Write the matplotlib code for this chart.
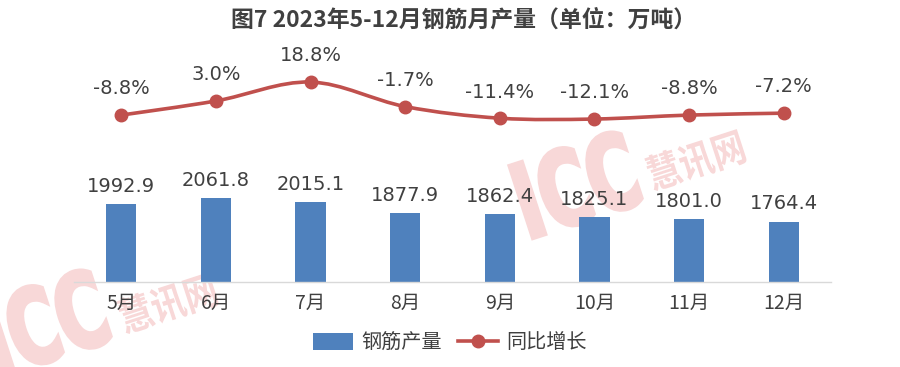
import matplotlib
matplotlib.use('Agg')
import matplotlib.pyplot as plt
import numpy as np
from matplotlib.path import Path
from matplotlib.patches import PathPatch, Patch
from matplotlib.lines import Line2D
from matplotlib.textpath import TextPath
from matplotlib.font_manager import FontProperties
from matplotlib.transforms import Affine2D, IdentityTransform

# data
months = ['5月', '6月', '7月', '8月', '9月', '10月', '11月', '12月']
output = [1992.9, 2061.8, 2015.1, 1877.9, 1862.4, 1825.1, 1801.0, 1764.4]
yoy = [-8.8, 3.0, 18.8, -1.7, -11.4, -12.1, -8.8, -7.2]

bar_color = '#4F81BD'
line_color = '#C0504D'
text_color = '#404040'
wm_color = '#f8d8d8'
cjk_font = ['Noto Sans CJK SC', 'DejaVu Sans']

plt.rcParams['font.family'] = cjk_font

W, H = 900, 367
fig = plt.figure(figsize=(W / 100, H / 100), dpi=100)
ax = fig.add_axes([74 / W, 1 - 282 / H, 757 / W, 222 / H])
ax2 = ax.twinx()


def watermark(s, px, py, size, sx, angle, prop, lw=0):
    # condensed, rotated text placed in figure pixels (py from top)
    tp = TextPath((0, 0), s, size=size, prop=prop)
    tr = Affine2D().scale(sx, 1).rotate_deg(angle).translate(px, H - py)
    patch = PathPatch(tr.transform_path(tp), facecolor=wm_color, edgecolor=wm_color, lw=lw,
                      transform=IdentityTransform(), zorder=-1)
    fig.patches.append(patch)


latin_b = FontProperties(family='DejaVu Sans', weight='bold')
cjk_b = FontProperties(family='Noto Sans CJK SC', weight='bold')
watermark('ICC', 527, 240, 104, 0.66, 18, latin_b, lw=3)
watermark('慧讯网', 652, 190, 40, 0.85, 18, cjk_b)
watermark('ICC', -4, 378, 104, 0.66, 18, latin_b, lw=3)
watermark('慧讯网', 124, 333, 40, 0.85, 18, cjk_b)

ax.patch.set_alpha(0)
ax2.patch.set_alpha(0)

x = np.arange(len(months))
ax.bar(x, output, width=0.32, color=bar_color, zorder=2)
ax.set_ylim(1000, 3820)
ax.set_xlim(-0.5, 7.5)
for xi, v in zip(x, output):
    ax.annotate(f'{v:.1f}', (xi, v), xytext=(0, 6), textcoords='offset points',
                ha='center', va='bottom', fontsize=14, color=text_color, family='DejaVu Sans')

# smooth line (bezier through the points, like office "smoothed line")
pts = np.column_stack([x, yoy]).astype(float)
verts = [pts[0]]
codes = [Path.MOVETO]
for i in range(len(pts) - 1):
    p0 = pts[i - 1] if i > 0 else pts[i]
    p1 = pts[i]
    p2 = pts[i + 1]
    p3 = pts[i + 2] if i + 2 < len(pts) else pts[i + 1]
    c1 = p1 + (p2 - p0) / 6
    c2 = p2 - (p3 - p1) / 6
    verts += [c1, c2, p2]
    codes += [Path.CURVE4] * 3
ax2.add_patch(PathPatch(Path(verts, codes), fill=False, edgecolor=line_color, lw=2.6,
                        zorder=3, capstyle='round'))
ax2.plot(x, yoy, 'o', color=line_color, ms=9, zorder=4)
ax2.set_ylim(-148.2, 37.2)
for xi, v in zip(x, yoy):
    ax2.annotate(f'{v:.1f}%', (xi, v), xytext=(0, 12), textcoords='offset points',
                 ha='center', va='bottom', fontsize=14, color=text_color, family='DejaVu Sans')

for a in (ax, ax2):
    for s in ('top', 'right', 'left'):
        a.spines[s].set_visible(False)
    a.set_yticks([])
ax2.spines['bottom'].set_visible(False)
ax.spines['bottom'].set_color('#d9d9d9')
ax.spines['bottom'].set_linewidth(1)
ax.set_xticks(x)
ax.set_xticklabels(months, fontsize=14, color=text_color)
ax.tick_params(axis='x', length=0, pad=8)

fig.suptitle('图7 2023年5-12月钢筋月产量（单位：万吨）', x=0.515, y=1 - 20 / H, va='center',
             fontsize=16.5, fontweight='bold', color=text_color)

handles = [Patch(facecolor=bar_color, label='钢筋产量'),
           Line2D([], [], color=line_color, lw=2.6, marker='o', ms=9, label='同比增长')]
fig.legend(handles=handles, loc='center', bbox_to_anchor=(0.5, 1 - 343 / H), ncol=2,
           frameon=False, fontsize=14.5, handlelength=2.0, handleheight=0.9, columnspacing=0.8,
           handletextpad=0.4, labelcolor=text_color)

fig.savefig('out.png', dpi=100)
